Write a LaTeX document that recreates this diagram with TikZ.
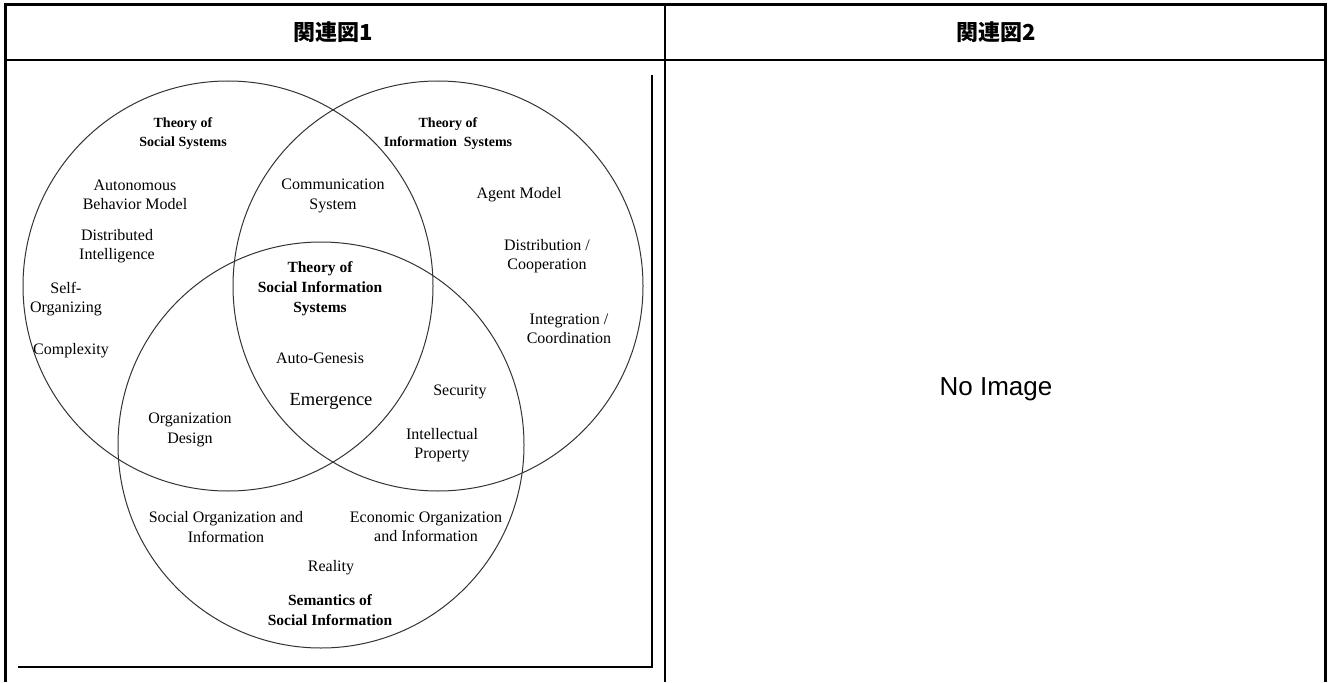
\documentclass[tikz,border=0pt]{standalone}
\usepackage{fontspec}
\setmainfont{Liberation Serif}
\newfontfamily\cjk{Noto Sans CJK JP}
\newfontfamily\arial{Liberation Sans}
\usetikzlibrary{positioning}
\tikzset{
	ring/.style={draw=black!80, line width=1pt},
	lbl/.style={font=\fontsize{16}{19.5}\selectfont, align=center, inner sep=0pt},
	ttl/.style={font=\fontsize{14}{19}\selectfont\bfseries, align=center, inner sep=0pt},
	bigttl/.style={font=\fontsize{15.5}{20}\selectfont\bfseries, align=center, inner sep=0pt},
	head/.style={font=\fontsize{22}{24}\selectfont\cjk\bfseries, inner sep=0pt},
}

\begin{document}
\begin{tikzpicture}[x=1pt, y=-1pt]
		%%%%% START %%%%%
		\useasboundingbox (0, 0) rectangle (1329, 682);
		
		\draw[line width=1.2pt] (4, 60) -- (1327, 60);
		\draw[line width=1.2pt] (665, 3) -- (665, 682);
		\draw[line width=3pt] (4, 4.5) -- (1327, 4.5);
		\draw[line width=3pt] (5.5, 3) -- (5.5, 682);
		\draw[line width=3pt] (1325.5, 3) -- (1325.5, 682);
		
		\node[head] (head1) at (333, 32) {関連図1};
		\node[head] (head2) at (996, 32) {関連図2};
		\node[font=\fontsize{26}{30}\selectfont\arial, inner sep=0pt] (noimg) at (996, 389) {No Image};
		
		\draw[line width=1.3pt] (652, 75) -- (652, 667) -- (18, 667);
		
		\draw[ring] (228, 286) circle (205);
		\draw[ring] (438, 286) circle (205);
		\draw[ring] (321, 445) circle (203);
		
		\node[ttl] (socsys) at (183, 134) {Theory of\\Social Systems};
		\node[lbl] (autonom) at (135, 195) {Autonomous\\Behavior Model};
		\node[lbl] (distint) at (117, 246) {Distributed\\Intelligence};
		\node[lbl] (selforg) at (66, 299) {Self-\\Organizing};
		\node[lbl] (complex) at (71, 351) {Complexity};
		\node[lbl] (commsys) at (333, 196) {Communication\\System};
		
		\node[ttl] (infsys) at (448, 134) {Theory of\\Information\ \ Systems};
		\node[lbl] (agent) at (519, 195) {Agent Model};
		\node[lbl] (distcoop) at (547, 256) {Distribution /\\Cooperation};
		\node[lbl] (integr) at (569, 329) {Integration /\\Coordination};
		
		\node[bigttl] (socinfsys) at (320, 289) {Theory of\\Social Information\\Systems};
		\node[lbl] (genesis) at (320, 358) {Auto-Genesis};
		\node[lbl, font=\fontsize{18.5}{20}\selectfont] (emerg) at (331, 401) {Emergence};
		
		\node[lbl] (orgdes) at (190, 430) {Organization\\Design};
		\node[lbl] (secur) at (460, 392) {Security};
		\node[lbl] (intprop) at (442, 445) {Intellectual\\Property};
		
		\node[lbl] (socorg) at (226, 527) {Social Organization and\\Information};
		\node[lbl] (ecoorg) at (426, 527) {Economic Organization\\and Information};
		\node[lbl] (reality) at (331, 568) {Reality};
		\node[bigttl] (semant) at (330, 610) {Semantics of\\Social Information};
		%%%%% END %%%%%
	\end{tikzpicture}
\end{document}
